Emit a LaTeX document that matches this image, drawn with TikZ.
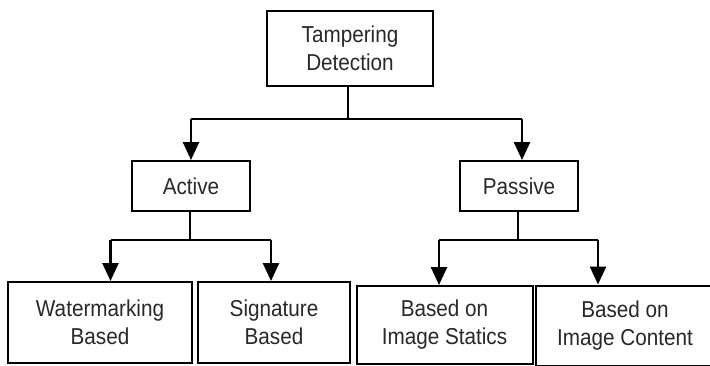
\documentclass[tikz,border=0pt]{standalone}
\usepackage{fontspec}
\setmainfont[FakeStretch=0.9]{Liberation Sans}
\usetikzlibrary{arrows.meta}
\definecolor{txt}{RGB}{40,40,40}
\begin{document}
\begin{tikzpicture}[x=1pt,y=-1pt,
  box/.style={draw=black,line width=2pt,inner sep=0pt,align=center,text=txt,
    font=\fontsize{23}{28}\selectfont},
  thin/.style={line width=1.6pt},
  arr/.style={line width=2.6pt,-{Triangle[width=16pt,length=18pt]}}]
\useasboundingbox (0,0) rectangle (710,365);
\node[box,minimum width=166pt,minimum height=75pt] (top) at (350,48.5) {Tampering\\Detection};
\node[box,minimum width=118pt,minimum height=50pt] (act) at (191,186) {Active};
\node[box,minimum width=118pt,minimum height=50pt] (pas) at (519,186) {Passive};
\node[box,minimum width=184pt,minimum height=81pt] (wm) at (100,322.5) {Watermarking\\Based};
\node[box,minimum width=152pt,minimum height=81pt] (sig) at (274,322.5) {Signature\\Based};
\node[box,minimum width=176pt,minimum height=78pt] (st) at (444.5,325) {Based on\\Image Statics};
\node[box,minimum width=178pt,minimum height=80pt] (co) at (625,325.5) {Based on\\Image Content};
% top level
\coordinate (j0) at (348,119);
\coordinate (l0) at (191,119);
\coordinate (r0) at (522,119);
\draw[thin] (top.south -| j0) -- (j0);
\draw[thin] (l0) -- (r0);
\draw[arr] (l0) -- (l0 |- act.north);
\draw[arr] (r0) -- (r0 |- pas.north);
% active
\coordinate (j1) at (190,240);
\coordinate (l1) at (110.5,240);
\coordinate (r1) at (271,240);
\draw[thin] (act.south -| j1) -- (j1);
\draw[thin] (l1) -- (r1);
\draw[arr] (l1) -- (l1 |- wm.north);
\draw[arr] (r1) -- (r1 |- sig.north);
% passive
\coordinate (j2) at (518,240);
\coordinate (l2) at (439,240);
\coordinate (r2) at (598,240);
\draw[thin] (pas.south -| j2) -- (j2);
\draw[thin] (l2) -- (r2);
\draw[arr] (l2) -- (l2 |- st.north);
\draw[arr] (r2) -- (r2 |- co.north);
\end{tikzpicture}
\end{document}
